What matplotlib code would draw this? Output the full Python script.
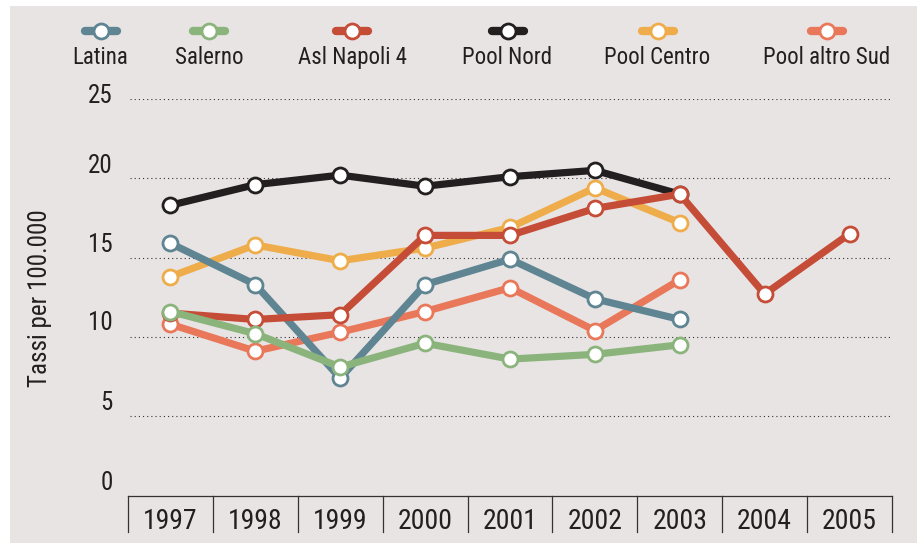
import matplotlib
matplotlib.use('Agg')
import matplotlib.pyplot as plt
from matplotlib.lines import Line2D
from matplotlib.patches import Rectangle
import matplotlib.transforms as mtransforms

# Tassi per 100.000 abitanti, 1997-2005
years = [1997, 1998, 1999, 2000, 2001, 2002, 2003, 2004, 2005]
latina = [15.9, 13.3, 7.4, 13.3, 14.9, 12.4, 11.1]
salerno = [11.6, 10.2, 8.1, 9.6, 8.6, 8.9, 9.5]
asl_napoli_4 = [11.5, 11.1, 11.4, 16.4, 16.4, 18.1, 19.0, 12.7, 16.5]
pool_nord = [18.3, 19.6, 20.2, 19.5, 20.1, 20.5, 19.0]
pool_centro = [13.8, 15.8, 14.8, 15.6, 16.9, 19.4, 17.2]
pool_altro_sud = [10.8, 9.1, 10.3, 11.6, 13.1, 10.4, 13.6]

names = ['Latina', 'Salerno', 'Asl Napoli 4', 'Pool Nord', 'Pool Centro', 'Pool altro Sud']
series = [latina, salerno, asl_napoli_4, pool_nord, pool_centro, pool_altro_sud]
colors = ['#5F8593', '#8BB47D', '#C54D37', '#231F20', '#EEAD4A', '#E9785A']
yticks = [0, 5, 10, 15, 20, 25]

# drawing order (bottom to top)
order = [3, 4, 5, 0, 2, 1]

W, H = 917, 543
plt.rcParams['font.family'] = ['Roboto Condensed', 'DejaVu Sans']
plt.rcParams['lines.scale_dashes'] = False
txt = '#231F20'

fig = plt.figure(figsize=(W / 100, H / 100), dpi=100)
fig.patch.set_facecolor('white')
fig.add_artist(Rectangle((10 / W, 0), (W - 10) / W, (H - 6) / H,
                         transform=fig.transFigure, facecolor='#E8E4E4',
                         edgecolor='none', zorder=0))

left, right, y0, y25 = 128, 892, 495.5, 99
ax = fig.add_axes([left / W, (H - y0) / H, (right - left) / W, (y0 - y25) / H])
ax.set_facecolor('none')
ax.set_xlim(years[0] - 0.5, years[-1] + 0.5)
ax.set_ylim(0, 25)
for s in ['top', 'right', 'left']:
    ax.spines[s].set_visible(False)
ax.spines['bottom'].set_color('#333333')
ax.spines['bottom'].set_linewidth(0.9)

# dotted gridlines
for v in yticks[1:]:
    ax.plot([years[0] - 0.48, years[-1] + 0.5], [v, v], color='#333333',
            lw=0.8, linestyle=(0, (0.8, 2.2)), zorder=1)

# y labels sit a little above their gridlines
ax.set_yticks([])
ylab_off = [13, 13, 14, 13, 12, 3]
for v, off in zip(yticks, ylab_off):
    tr = mtransforms.blended_transform_factory(ax.transAxes, ax.transData) + \
        mtransforms.ScaledTranslation(0, off / 100, fig.dpi_scale_trans)
    ax.text(-15 / (right - left), v, str(v), transform=tr, ha='right',
            va='center', fontsize=18, color=txt)

# year boxes under the axis
ax.set_xticks(years)
ax.set_xticklabels([str(y) for y in years], fontsize=20, color=txt)
ax.tick_params(axis='x', length=0, pad=9)
trx = mtransforms.blended_transform_factory(ax.transData, ax.transAxes)
box_h = (532 - y0) / (y0 - y25)
for b in [y - 0.5 for y in years] + [years[-1] + 0.5]:
    ax.add_line(Line2D([b, b], [0, -box_h], transform=trx, color='#333333',
                       lw=0.9, clip_on=False))

# series
for i in order:
    vals = series[i]
    ax.plot(years[:len(vals)], vals, color=colors[i], lw=5.2, marker='o',
            markersize=10.8, markerfacecolor='white', markeredgecolor=colors[i],
            markeredgewidth=2, solid_joinstyle='round', solid_capstyle='round',
            clip_on=False, zorder=3 + order.index(i))

fig.text(40 / W, (H - 298) / H, 'Tassi per 100.000', rotation=90,
         ha='center', va='center', fontsize=18, color=txt)

# legend: short line with marker, name below
leg_x = [100.5, 208.8, 352, 507.5, 657.5, 827]
sym_y, lab_y, half = 30.7, 57.3, 16
for x, name, c in zip(leg_x, names, colors):
    fig.add_artist(Line2D([(x - half) / W, (x + half) / W], [(H - sym_y) / H] * 2,
                          transform=fig.transFigure, color=c, lw=6,
                          solid_capstyle='round'))
    fig.add_artist(Line2D([x / W], [(H - sym_y) / H], transform=fig.transFigure,
                          marker='o', markersize=10.8, markerfacecolor='white',
                          markeredgecolor=c, markeredgewidth=2))
    fig.text(x / W, (H - lab_y) / H, name, ha='center', va='center',
             fontsize=16.5, color=txt)

fig.savefig('out.png', dpi=100)
